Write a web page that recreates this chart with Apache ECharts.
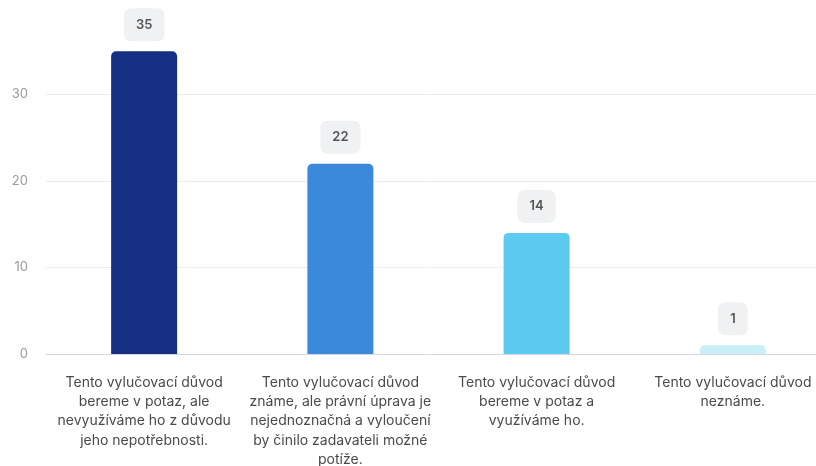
<!DOCTYPE html>
<html>
<head>
<meta charset="utf-8">
<script src="https://cdn.jsdelivr.net/npm/echarts@6/dist/echarts.min.js"></script>
<style>
  html, body { margin: 0; padding: 0; background: #ffffff; }
  #chart { width: 816px; height: 466px; }
</style>
</head>
<body>
<div id="chart"></div>
<script>
// Answer categories (line breaks as they wrap under each bar)
const categories = [
  'Tento vylučovací důvod\nbereme v potaz, ale\nnevyužíváme ho z důvodu\njeho nepotřebnosti.',
  'Tento vylučovací důvod\nznáme, ale právní úprava je\nnejednoznačná a vyloučení\nby činilo zadavateli možné\npotíže.',
  'Tento vylučovací důvod\nbereme v potaz a\nvyužíváme ho.',
  'Tento vylučovací důvod\nneznáme.'
];
// Number of responses per answer
const counts = [35, 22, 14, 1];
// Bar fill per answer
const barColors = ['#142f84', '#3a89db', '#5ccbf1', '#c9eff9'];
// Value axis ticks
const yTicks = [0, 10, 20, 30];

const chart = echarts.init(document.getElementById('chart'));
chart.setOption({
  animation: false,
  textStyle: { fontFamily: 'Inter, "Noto Sans", sans-serif' },
  grid: {
    left: 46, right: -15, top: 8, bottom: 112,
    containLabel: false,
    outerBoundsMode: 'none'
  },
  xAxis: {
    type: 'category',
    data: categories,
    axisTick: { show: false },
    axisLine: { lineStyle: { color: '#d6d6de', width: 1 } },
    axisLabel: {
      interval: 0,
      margin: 19,
      color: '#4a4a4a',
      fontSize: 14,
      lineHeight: 19.3,
      align: 'center'
    }
  },
  yAxis: {
    type: 'value',
    min: 0,
    max: 40,
    interval: 10,
    axisLine: { show: false },
    axisTick: { show: false },
    axisLabel: {
      color: '#9a9a9a',
      fontSize: 13,
      margin: 18,
      showMaxLabel: false,
      formatter: v => (yTicks.indexOf(v) >= 0 ? String(v) : '')
    },
    splitLine: {
      lineStyle: { color: ['#ececf0', '#ececf0', '#ececf0', '#ececf0', 'transparent'] }
    }
  },
  series: [{
    type: 'bar',
    barWidth: 66,
    data: counts.map((v, i) => ({
      value: v,
      itemStyle: { color: barColors[i] }
    })),
    itemStyle: { borderRadius: [5, 5, 0, 0] },
    label: {
      show: true,
      position: 'top',
      distance: 10,
      color: '#555555',
      fontSize: 13,
      fontWeight: 600,
      backgroundColor: '#f0f1f2',
      borderRadius: 7,
      padding: [10, 12, 10, 12]
    }
  }]
});
</script>
</body>
</html>
